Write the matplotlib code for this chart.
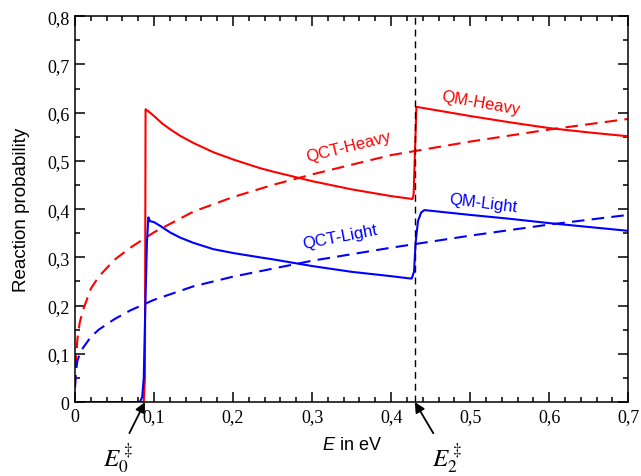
import numpy as np
import matplotlib
matplotlib.use("Agg")
import matplotlib.pyplot as plt
from matplotlib.ticker import MultipleLocator, FuncFormatter

plt.rcParams["font.family"] = "Liberation Serif"
plt.rcParams["mathtext.fontset"] = "custom"
plt.rcParams["mathtext.it"] = "Liberation Sans:italic"
plt.rcParams["mathtext.rm"] = "Liberation Sans"

# QM heavy (red solid)
qm_heavy_x = [0, 0.087, 0.0885, 0.0893, 0.095, 0.1, 0.11, 0.12, 0.133, 0.15, 0.175, 0.2,
              0.234, 0.25, 0.3, 0.35, 0.4, 0.427, 0.4285, 0.432, 0.45, 0.5, 0.55, 0.6,
              0.65, 0.7]
qm_heavy_y = [0, 0, 0.05, 0.607, 0.6, 0.593, 0.578, 0.566, 0.552, 0.537, 0.518, 0.503,
              0.485, 0.478, 0.458, 0.441, 0.427, 0.421, 0.43, 0.612, 0.607, 0.593, 0.580,
              0.568, 0.559, 0.551]

# QM light (blue solid)
qm_light_x = [0, 0.082, 0.085, 0.087, 0.089, 0.091, 0.0928, 0.095, 0.1, 0.108, 0.12,
              0.133, 0.15, 0.175, 0.2, 0.234, 0.25, 0.3, 0.35, 0.4, 0.42, 0.426, 0.429,
              0.431, 0.434, 0.438, 0.442, 0.5, 0.55, 0.6, 0.65, 0.7]
qm_light_y = [0, 0, 0.01, 0.05, 0.2, 0.33, 0.383, 0.375, 0.373, 0.365, 0.352,
              0.341, 0.33, 0.317, 0.309, 0.3, 0.296, 0.282, 0.27, 0.261, 0.257, 0.256,
              0.27, 0.33, 0.375, 0.393, 0.398, 0.388, 0.38, 0.371, 0.363, 0.355]

# QCT heavy (red dashed)
qct_heavy_x = [0, 0.001, 0.003, 0.006, 0.01, 0.02, 0.03, 0.05, 0.07, 0.1, 0.15, 0.2,
               0.25, 0.3, 0.4, 0.5, 0.6, 0.7]
qct_heavy_y = [0.03, 0.08, 0.13, 0.165, 0.19, 0.235, 0.26, 0.295, 0.32, 0.352, 0.395,
               0.425, 0.45, 0.472, 0.512, 0.54, 0.565, 0.587]

# QCT light (blue dashed)
qct_light_x = [0, 0.001, 0.003, 0.006, 0.01, 0.02, 0.03, 0.05, 0.07, 0.1, 0.15, 0.2,
               0.3, 0.4, 0.5, 0.6, 0.7]
qct_light_y = [0.03, 0.06, 0.085, 0.1, 0.112, 0.135, 0.15, 0.172, 0.19, 0.212, 0.24,
               0.26, 0.293, 0.32, 0.345, 0.368, 0.388]

e2_threshold = 0.43
e0_threshold = 0.0885

fig = plt.figure(figsize=(6.41, 4.77), dpi=100)
ax = fig.add_axes([0.117, 0.155, 0.863, 0.809])

dash = (6, 3.5)
ax.plot(qct_heavy_x, qct_heavy_y, color="red", lw=1.5, dashes=dash)
ax.plot(qct_light_x, qct_light_y, color="blue", lw=1.5, dashes=dash)
ax.plot(qm_heavy_x, qm_heavy_y, color="red", lw=1.5)
ax.plot(qm_light_x, qm_light_y, color="blue", lw=1.5)
ax.axvline(e2_threshold, color="black", lw=1.0, dashes=(5, 3.5))

ax.set_xlim(0, 0.7)
ax.set_ylim(0, 0.8)
ax.xaxis.set_major_locator(MultipleLocator(0.1))
ax.xaxis.set_minor_locator(MultipleLocator(0.02))
ax.yaxis.set_major_locator(MultipleLocator(0.1))
ax.yaxis.set_minor_locator(MultipleLocator(0.05))

def comma(v, pos):
    if abs(v) < 1e-9:
        return "0"
    return ("%.1f" % v).replace(".", ",")

ax.xaxis.set_major_formatter(FuncFormatter(comma))
ax.yaxis.set_major_formatter(FuncFormatter(comma))
ax.tick_params(which="both", direction="in", top=True, right=True, width=1.1)
ax.tick_params(which="major", length=7, labelsize=13, pad=4)
ax.tick_params(which="minor", length=3.6)
for sp in ax.spines.values():
    sp.set_linewidth(1.1)

ax.set_ylabel("Reaction probability", family="Liberation Sans", fontsize=13.5, labelpad=12)
ax.set_xlabel("$E$ in eV", family="Liberation Sans", fontsize=13, labelpad=8)

lab_font = dict(family="Liberation Sans", fontsize=12, ha="center", va="center")
ax.text(0.346, 0.531, "QCT-Heavy", color="red", rotation=14, **lab_font)
ax.text(0.513, 0.622, "QM-Heavy", color="red", rotation=-10, **lab_font)
ax.text(0.335, 0.344, "QCT-Light", color="blue", rotation=11, **lab_font)
ax.text(0.516, 0.414, "QM-Light", color="blue", rotation=-7, **lab_font)

arrow = dict(arrowstyle="-|>", color="black", lw=1.3, mutation_scale=15, shrinkA=3, shrinkB=0)
ax.annotate(r"$E_0^\ddagger$", xy=(e0_threshold, 0), xytext=(0.054, -0.113),
            ha="center", va="center", fontsize=18, math_fontfamily="stix",
            arrowprops=arrow, annotation_clip=False)
ax.annotate(r"$E_2^\ddagger$", xy=(e2_threshold, 0), xytext=(0.471, -0.113),
            ha="center", va="center", fontsize=18, math_fontfamily="stix",
            arrowprops=arrow, annotation_clip=False)

fig.savefig("out.png", dpi=100)
